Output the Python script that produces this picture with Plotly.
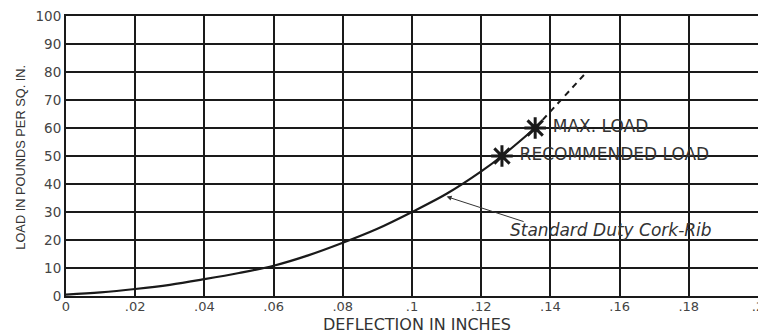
import plotly.graph_objects as go

# load curve
defl = [0, 0.01, 0.02, 0.03, 0.04, 0.05, 0.06, 0.07, 0.08, 0.09, 0.10, 0.11, 0.12, 0.126, 0.1356]
load = [0.5, 1.3, 2.5, 4.0, 6.0, 8.2, 10.8, 14.5, 19.0, 24.0, 30.0, 36.5, 44.5, 50.0, 60.0]

# dashed extension above max load
defl_ext = [0.1356, 0.143, 0.1505]
load_ext = [60.0, 70.0, 80.0]

# marked points
pt_defl = [0.126, 0.1356]
pt_load = [50, 60]
pt_names = ["RECOMMENDED LOAD", "MAX. LOAD"]

xticks = [0, 0.02, 0.04, 0.06, 0.08, 0.1, 0.12, 0.14, 0.16, 0.18, 0.2]
xlabels = ["0", ".02", ".04", ".06", ".08", ".1", ".12", ".14", ".16", ".18", ".2"]
yticks = list(range(0, 101, 10))

ink = "#1a1a1a"
fnt = "DejaVu Sans, sans-serif"

fig = go.Figure()
fig.add_trace(go.Scatter(x=defl, y=load, mode="lines", line=dict(color=ink, width=2.2, shape="spline"),
                         showlegend=False, hoverinfo="skip"))
fig.add_trace(go.Scatter(x=defl_ext, y=load_ext, mode="lines", line=dict(color=ink, width=2, dash="6px,5px"),
                         showlegend=False, hoverinfo="skip"))
fig.add_trace(go.Scatter(x=pt_defl, y=pt_load, mode="markers+text", text=[" " + s for s in pt_names],
                         textposition="middle right",
                         textfont=dict(family=fnt, size=17, color="#333"),
                         marker=dict(symbol="asterisk-open", size=18, color=ink, line=dict(color=ink, width=3)),
                         showlegend=False, hoverinfo="skip"))

fig.add_annotation(x=0.11, y=35.5, ax=0.1327, ay=26.4, xref="x", yref="y", axref="x", ayref="y",
                   text="", showarrow=True, arrowhead=2, arrowsize=1, arrowwidth=1, arrowcolor="#333")
fig.add_annotation(x=0.1575, y=23.5, xref="x", yref="y", text="<i>Standard Duty Cork-Rib</i>",
                   showarrow=False, font=dict(family=fnt, size=17, color="#333"))

# axis titles placed by hand
fig.add_annotation(x=0.507, y=-0.103, xref="paper", yref="paper", xanchor="center", yanchor="middle",
                   text="DEFLECTION IN INCHES", showarrow=False, font=dict(family=fnt, size=16, color="#333"))
fig.add_annotation(x=-0.066, y=0.495, xref="paper", yref="paper", xanchor="center", yanchor="middle",
                   text="LOAD IN POUNDS PER SQ. IN.", textangle=-90, showarrow=False,
                   font=dict(family="Liberation Sans, Arial, sans-serif", size=12.8, color="#333"))

fig.update_xaxes(range=[0, 0.2], tickvals=xticks, ticktext=xlabels, showgrid=True, gridcolor=ink, gridwidth=1.5,
                 showline=True, linecolor=ink, linewidth=2, mirror=True, zeroline=False, automargin=False,
                 ticklabeloverflow="allow", ticklabelstandoff=-3,
                 tickfont=dict(family=fnt, size=13, color="#444"))
fig.update_yaxes(range=[0, 100], tickvals=yticks, showgrid=True, gridcolor=ink, gridwidth=1.5,
                 showline=True, linecolor=ink, linewidth=2, mirror=True, zeroline=False, automargin=False,
                 ticklabeloverflow="allow", tickfont=dict(family=fnt, size=13.5, color="#444"))

# page body adds an 8px offset, margins compensate for it
fig.update_layout(width=766, height=335, margin=dict(l=58, r=16, t=8, b=47),
                  plot_bgcolor="white", paper_bgcolor="white")

fig.write_html("out.html")
